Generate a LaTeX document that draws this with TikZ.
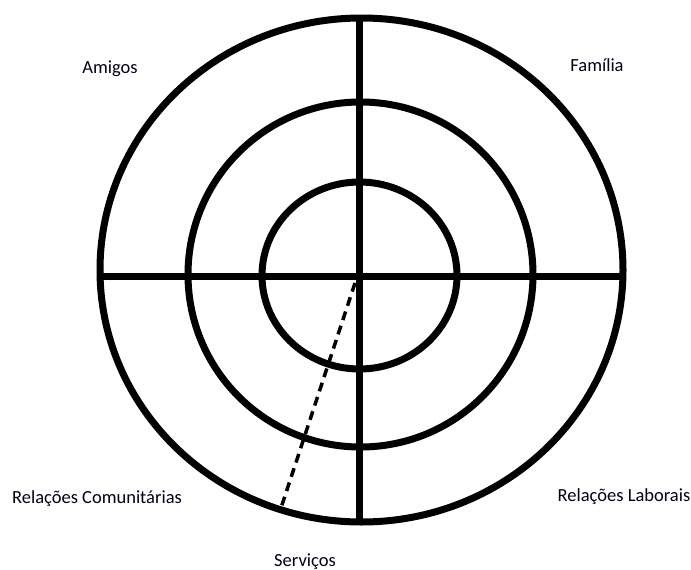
\documentclass[tikz,border=0pt]{standalone}
\usepackage{fontspec}
\setmainfont{Carlito}
\begin{document}
\begin{tikzpicture}[x=1pt,y=-1pt,
  ring/.style={line width=7pt},
  axis/.style={line width=7pt},
  dashline/.style={line width=3.5pt, dash pattern=on 9pt off 6pt},
  lbl/.style={font=\fontsize{18.5}{20}\selectfont, text=black!90!blue, inner sep=0pt}]
\useasboundingbox (0,0) rectangle (691,570);
\draw[ring] (361.5,270) ellipse [x radius=261.5, y radius=252];
\draw[ring] (360.5,274.5) ellipse [x radius=172.5, y radius=172.5];
\draw[ring] (359.5,275.5) ellipse [x radius=97.5, y radius=93.5];
\coordinate (hl) at (100,276);
\coordinate (hr) at (623,276);
\coordinate (vt) at (359,18);
\coordinate (vb) at (359,522);
\draw[axis] (hl) -- (hr);
\draw[axis] (vt) -- (vb);
\coordinate (ds) at (355,283);
\coordinate (de) at (280,511);
\draw[dashline] (ds) -- (de);
\node[lbl] (amigos) at (110,69) {Amigos};
\node[lbl] (familia) at (597,65) {Família};
\node[lbl] (comun) at (97,499) {Relações Comunitárias};
\node[lbl] (labor) at (624,497) {Relações Laborais};
\node[lbl] (serv) at (305,562) {Serviços};
\end{tikzpicture}
\end{document}
